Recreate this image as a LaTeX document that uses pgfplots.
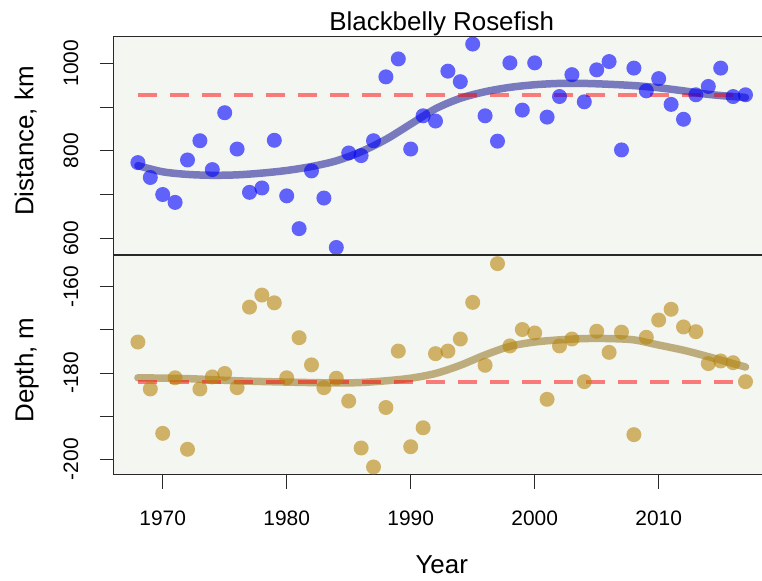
\documentclass[border=0pt]{standalone}
\usepackage{pgfplots}
\pgfplotsset{compat=1.18}
\usepackage{fontspec}
\setmainfont{Liberation Sans}

\definecolor{panelbg}{RGB}{243,246,241}
\definecolor{ptblue}{RGB}{0,0,255}
\definecolor{lnblue}{RGB}{0,0,139}
\definecolor{ptgold}{RGB}{184,134,11}
\definecolor{lngold}{RGB}{139,101,8}
\definecolor{framec}{RGB}{40,40,40}

\pgfplotsset{
  fishpanel/.style={
    scale only axis,
    width=656.2bp,
    xmin=1966.04, xmax=2018.96,
    axis background/.style={fill=panelbg},
    axis line style={draw=framec, line width=1.1bp},
    tick align=outside,
    major tick length=14bp,
    tick style={draw=framec, line width=1bp},
    ytick pos=left,
    xtick pos=bottom,
    tick label style={font=\fontsize{21}{24}\selectfont},
    yticklabel style={rotate=90, anchor=south, inner sep=0pt},
    yticklabel shift=21bp,
    clip=false,
  },
  pts/.style={only marks, mark=*, mark size=7.5bp},
  smoothfit/.style={no marks, smooth, line width=7.5bp, line cap=round, line join=round},
  refline/.style={no marks, line width=3.6bp, dash pattern=on 19bp off 13bp},
}

\begin{document}
\begin{tikzpicture}
\path[use as bounding box] (0bp,0bp) rectangle (762bp,581bp);
\clip (0bp,0bp) rectangle (762bp,581bp);

% Upper panel: distance
\begin{axis}[fishpanel,
  at={(113.6bp,326bp)}, anchor=south west,
  height=218.3bp,
  ymin=561.8, ymax=1060.8,
  xtick=\empty,
  ytick={600,700,800,900,1000},
  yticklabels={600,,800,,1000},
]
\addplot[pts, draw=none, mark options={draw opacity=0, fill=ptblue, fill opacity=0.6}] coordinates {
(1968,773) (1969,739) (1970,700) (1971,682) (1972,779) (1973,823) (1974,757)
(1975,887) (1976,804) (1977,705) (1978,715) (1979,824) (1980,697) (1981,622)
(1982,754) (1983,692) (1984,579) (1985,795) (1986,789) (1987,823) (1988,969)
(1989,1010) (1990,804) (1991,880) (1992,868) (1993,982) (1994,958) (1995,1044)
(1996,880) (1997,822) (1998,1001) (1999,893) (2000,1001) (2001,877) (2002,924)
(2003,974) (2004,912) (2005,985) (2006,1004) (2007,802) (2008,989) (2009,937)
(2010,965) (2011,906) (2012,872) (2013,928) (2014,947) (2015,989) (2016,924)
(2017,928)
};
\addplot[smoothfit, draw=lnblue, draw opacity=0.5] coordinates {
(1968,766) (1970,752) (1972,746) (1974,744) (1976,745) (1978,749) (1980,755)
(1982,764) (1984,777) (1986,798) (1988,826) (1990,861) (1992,896) (1994,920)
(1996,935) (1998,945) (2000,951) (2002,954) (2004,954) (2006,952) (2008,949)
(2010,944) (2012,937) (2014,929) (2016,924) (2017,922)
};
\addplot[refline, draw=red, draw opacity=0.5] coordinates {(1968,927.5) (2017,927.5)};
\end{axis}

% Lower panel: depth
\begin{axis}[fishpanel,
  at={(113.6bp,106.5bp)}, anchor=south west,
  height=219.5bp,
  ymin=-203.55, ymax=-152.6,
  xtick={1970,1980,1990,2000,2010},
  xticklabels={1970,1980,1990,2000,2010},
  xticklabel shift=19bp,
  ytick={-200,-190,-180,-170,-160},
  yticklabels={-200,,-180,,-160},
]
\addplot[pts, draw=none, mark options={draw opacity=0, fill=ptgold, fill opacity=0.6}] coordinates {
(1968,-172.8) (1969,-183.7) (1970,-194.0) (1971,-181.1) (1972,-197.7) (1973,-183.7)
(1974,-180.9) (1975,-180.1) (1976,-183.4) (1977,-164.7) (1978,-161.9) (1979,-163.7)
(1980,-181.1) (1981,-171.8) (1982,-178.1) (1983,-183.4) (1984,-181.2) (1985,-186.5)
(1986,-197.4) (1987,-201.8) (1988,-188.0) (1989,-174.9) (1990,-197.1) (1991,-192.7)
(1992,-175.5) (1993,-174.9) (1994,-172.1) (1995,-163.6) (1996,-178.2) (1997,-154.6)
(1998,-173.7) (1999,-169.9) (2000,-170.7) (2001,-186.1) (2002,-173.7) (2003,-172.1)
(2004,-182.0) (2005,-170.3) (2006,-175.2) (2007,-170.5) (2008,-194.3) (2009,-171.7)
(2010,-167.7) (2011,-165.2) (2012,-169.3) (2013,-170.4) (2014,-177.8) (2015,-177.2)
(2016,-177.6) (2017,-182.0)
};
\addplot[smoothfit, draw=lngold, draw opacity=0.5] coordinates {
(1968,-181.1) (1972,-181.3) (1976,-181.8) (1980,-182.1) (1984,-182.3) (1986,-182.2)
(1988,-181.8) (1990,-181.2) (1992,-180.1) (1994,-178.2) (1996,-175.8) (1998,-173.8)
(2000,-172.8) (2002,-172.3) (2004,-172.0) (2006,-172.0) (2008,-172.3) (2010,-173.5)
(2012,-174.7) (2014,-176.2) (2016,-177.8) (2017,-178.6)
};
\addplot[refline, draw=red, draw opacity=0.5] coordinates {(1968,-182.1) (2017,-182.1)};
\end{axis}

% Titles and axis labels
\node[anchor=base, font=\fontsize{26}{30}\selectfont] at (441.7bp,550.3bp) {Blackbelly Rosefish};
\node[anchor=base, rotate=90, font=\fontsize{26}{30}\selectfont] at (33.3bp,440bp) {Distance, km};
\node[anchor=base, rotate=90, font=\fontsize{26}{30}\selectfont] at (33.3bp,211bp) {Depth, m};
\node[anchor=base, font=\fontsize{26}{30}\selectfont] at (441.7bp,7.7bp) {Year};
\end{tikzpicture}
\end{document}
